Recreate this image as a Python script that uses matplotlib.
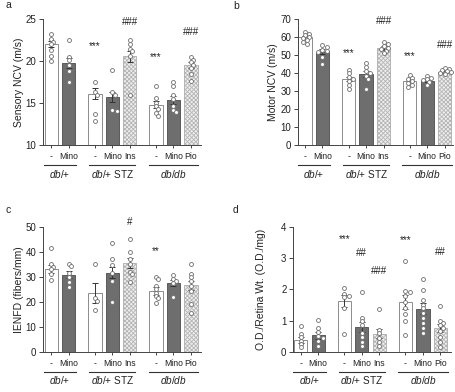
import matplotlib

matplotlib.use("Agg")
import matplotlib.pyplot as plt
import numpy as np

plt.rcParams["font.family"] = ["Liberation Sans", "DejaVu Sans"]
plt.rcParams["mathtext.fontset"] = "custom"
plt.rcParams["mathtext.rm"] = "Liberation Sans"
plt.rcParams["mathtext.it"] = "Liberation Sans:italic"
plt.rcParams["hatch.linewidth"] = 0.6

# ---- data -----------------------------------------------------------------
TREATMENTS = ["-", "Mino", "-", "Mino", "Ins", "-", "Mino", "Pio"]
GROUPS = [r"$\mathit{db/}$+", r"$\mathit{db/}$+ STZ", r"$\mathit{db/db}$"]
GROUP_SIZES = [2, 3, 3]

SENSORY_MEAN = [22.05, 19.8, 16.1, 15.75, 20.6, 14.8, 15.4, 19.55]
SENSORY_SEM = [0.4, 0.6, 0.65, 0.6, 0.65, 0.4, 0.45, 0.4]
SENSORY_DOTS = [
    [23.3, 22.6, 22.3, 22.0, 21.3, 20.6, 20.0],
    [22.5, 20.5, 20.1, 19.6, 18.8, 17.5],
    [17.5, 16.3, 16.0, 13.7, 12.9],
    [19.0, 16.3, 16.0, 14.2, 14.0],
    [22.5, 22.0, 21.5, 21.2, 20.6, 16.0],
    [17.0, 15.6, 15.0, 14.6, 14.3, 13.8, 13.5],
    [17.5, 17.0, 16.0, 15.5, 14.6, 14.2, 13.9],
    [20.5, 20.2, 19.9, 19.6, 19.2, 18.5, 17.6],
]

MOTOR_MEAN = [60.0, 52.0, 36.7, 39.4, 54.0, 35.8, 35.9, 40.8]
MOTOR_SEM = [0.9, 1.3, 1.3, 1.6, 0.9, 0.8, 0.7, 0.5]
MOTOR_DOTS = [
    [63.0, 62.0, 61.0, 60.0, 59.5, 58.5, 57.5, 56.5],
    [55.5, 54.5, 53.0, 52.5, 52.0, 49.0, 45.0],
    [42.0, 40.0, 38.0, 37.0, 35.5, 33.5, 31.0],
    [45.5, 43.5, 41.0, 40.0, 38.5, 37.0, 31.0],
    [57.5, 56.5, 55.0, 54.0, 53.5, 52.5, 51.0],
    [39.0, 37.5, 36.5, 35.5, 34.5, 33.5, 32.5],
    [38.5, 37.5, 36.5, 36.0, 35.0, 33.5],
    [43.0, 42.5, 41.5, 41.0, 40.5, 40.0, 39.5],
]

IENFD_MEAN = [33.1, 30.9, 23.7, 31.7, 35.7, 24.3, 27.7, 26.7]
IENFD_SEM = [1.7, 1.3, 4.0, 2.3, 2.0, 1.5, 1.2, 1.8]
IENFD_DOTS = [
    [41.5, 35.0, 34.0, 33.0, 31.0, 28.7],
    [35.3, 34.3, 31.7, 30.0, 28.0, 26.0],
    [35.3, 21.5, 20.5, 16.7],
    [43.3, 37.0, 34.7, 31.5, 28.3, 19.9],
    [45.0, 40.0, 37.0, 35.0, 32.0, 31.0, 28.0],
    [30.0, 29.0, 26.5, 25.3, 23.7, 22.5, 21.6, 19.7],
    [30.7, 29.3, 28.3, 27.5, 22.0],
    [35.3, 31.3, 30.0, 28.3, 26.3, 24.3, 19.3, 15.6],
]

OD_MEAN = [0.39, 0.53, 1.63, 0.80, 0.58, 1.59, 1.38, 0.77]
OD_SEM = [0.1, 0.1, 0.2, 0.17, 0.14, 0.22, 0.17, 0.13]
OD_DOTS = [
    [0.83, 0.57, 0.47, 0.36, 0.25, 0.15],
    [1.02, 0.76, 0.65, 0.5, 0.45, 0.34, 0.2],
    [2.05, 1.85, 1.8, 1.75, 1.42, 0.58],
    [1.91, 1.08, 0.98, 0.87, 0.6, 0.47, 0.32, 0.2],
    [1.37, 0.71, 0.6, 0.45, 0.31, 0.18],
    [2.9, 1.95, 1.9, 1.8, 1.6, 1.4, 1.22, 1.0, 0.55],
    [2.33, 1.98, 1.67, 1.5, 1.4, 1.26, 1.08, 0.92, 0.78, 0.6],
    [1.48, 0.99, 0.92, 0.85, 0.78, 0.67, 0.48, 0.33, 0.17],
]

# significance marks: (bar index, text) ; heights kept with the layout below
SENSORY_MARKS = [(2, "***"), (4, "###"), (5, "***"), (7, "###")]
MOTOR_MARKS = [(2, "***"), (4, "###"), (5, "***"), (7, "###")]
IENFD_MARKS = [(4, "#"), (5, "**")]
OD_MARKS = [(2, "***"), (3, "##"), (4, "###"), (5, "***"), (7, "##")]

# ---- layout / style ---------------------------------------------------------
FIG_W, FIG_H = 455, 392
PX_PER_UNIT = 17.45
BAR_STYLE = ["open", "dark", "open", "dark", "hatch", "open", "dark", "hatch"]
GROUP_HALF = [0.92, 1.32, 1.42]
TEXT = "#222222"

PANELS = [
    dict(letter="a", rect=[0.0936, 0.6301, 0.349, 0.3207], xlim=(-0.5, 8.6),
         ylim=(10, 25), yticks=[10, 15, 20, 25], ylabel="Sensory NCV (m/s)",
         labelpad=1.0, mean=SENSORY_MEAN, sem=SENSORY_SEM, dots=SENSORY_DOTS,
         marks=SENSORY_MARKS, mark_y=[21.8, 24.7, 20.5, 23.5]),
    dict(letter="b", rect=[0.6543, 0.6301, 0.342, 0.3207], xlim=(-0.42, 8.5),
         ylim=(0, 70), yticks=range(0, 71, 10), ylabel="Motor NCV (m/s)",
         labelpad=1.5, mean=MOTOR_MEAN, sem=MOTOR_SEM, dots=MOTOR_DOTS,
         marks=MOTOR_MARKS, mark_y=[51.4, 69.2, 49.6, 55.6]),
    dict(letter="c", rect=[0.0936, 0.102, 0.349, 0.3197], xlim=(-0.5, 8.6),
         ylim=(0, 50), yticks=range(0, 51, 10), ylabel="IENFD (fibers/mm)",
         labelpad=1.0, mean=IENFD_MEAN, sem=IENFD_SEM, dots=IENFD_DOTS,
         marks=IENFD_MARKS, mark_y=[52.0, 40.4]),
    dict(letter="d", rect=[0.6433, 0.102, 0.3475, 0.3197], xlim=(-0.46, 8.6),
         ylim=(0, 4), yticks=range(0, 5), ylabel="O.D./Retina Wt. (O.D./mg)",
         labelpad=11, mean=OD_MEAN, sem=OD_SEM, dots=OD_DOTS,
         marks=OD_MARKS, mark_y=[3.61, 3.15, 2.59, 3.58, 3.2]),
]
LETTER_POS = {"a": (0.011, 0.987), "b": (0.512, 0.985),
              "c": (0.011, 0.464), "d": (0.512, 0.464)}


def bar_positions(sizes, gap=0.5):
    pos, start = [], 0.0
    for n in sizes:
        pos.extend(start + np.arange(n))
        start += n + gap
    return np.array(pos)


def swarm(values, center, ylim, height_px, d_px=3.6):
    scale = height_px / (ylim[1] - ylim[0])
    placed, xs = [], []
    for v in values:
        y = v * scale
        for k in [0, 1, -1, 2, -2, 3, -3]:
            x = k * d_px * 0.6
            if all((x - px) ** 2 + (y - py) ** 2 >= (0.8 * d_px) ** 2
                   for px, py in placed):
                break
        placed.append((x, y))
        xs.append(center + x / PX_PER_UNIT)
    return xs


def draw_panel(fig, p):
    ax = fig.add_axes(p["rect"])
    x = bar_positions(GROUP_SIZES)
    for xi, m, style in zip(x, p["mean"], BAR_STYLE):
        if style == "open":
            kw = dict(color="white", edgecolor="#8c8c8c")
        elif style == "dark":
            kw = dict(color="#6e6e6e", edgecolor="#5a5a5a")
        else:
            kw = dict(color="#efefef", edgecolor="#b4b4b4", hatch="xxxxxxxx")
        ax.bar(xi, m, 0.76, linewidth=0.7, zorder=2, **kw)
    ax.errorbar(x, p["mean"], yerr=p["sem"], fmt="none", ecolor="#333333",
                elinewidth=0.7, capsize=2, capthick=0.7, zorder=3)
    height_px = p["rect"][3] * FIG_H
    for xi, vals in zip(x, p["dots"]):
        xs = swarm(vals, xi, p["ylim"], height_px)
        ax.scatter(xs, vals, s=8, facecolor="white", edgecolor="#6e6e6e",
                   linewidth=0.6, zorder=5, clip_on=False)
    for (idx, txt), y in zip(p["marks"], p["mark_y"]):
        ax.text(x[idx], y, txt, ha="center", va="center", fontsize=7,
                color=TEXT, clip_on=False)

    ax.set_xlim(*p["xlim"])
    ax.set_ylim(*p["ylim"])
    ax.set_yticks(list(p["yticks"]))
    ax.set_xticks(x)
    ax.set_xticklabels(TREATMENTS, fontsize=6.2, color=TEXT)
    ax.tick_params(axis="y", labelsize=7, length=3, width=0.7, pad=1.5,
                   colors="#444444", labelcolor=TEXT)
    ax.tick_params(axis="x", length=2.5, width=0.7, pad=2.5, colors="#444444",
                   labelcolor=TEXT)
    ax.set_ylabel(p["ylabel"], fontsize=7.5, color=TEXT, labelpad=p["labelpad"])
    for side in ("top", "right"):
        ax.spines[side].set_visible(False)
    for side in ("left", "bottom"):
        ax.spines[side].set_linewidth(0.7)
        ax.spines[side].set_color("#444444")

    trans = ax.get_xaxis_transform()
    start = 0
    for name, n, hw in zip(GROUPS, GROUP_SIZES, GROUP_HALF):
        c = x[start:start + n].mean()
        ax.plot([c - hw, c + hw], [-0.163, -0.163], color="#333333",
                linewidth=0.8, transform=trans, clip_on=False)
        ax.text(c, -0.227, name, transform=trans, ha="center", va="center",
                fontsize=7.2, color=TEXT)
        start += n

    lx, ly = LETTER_POS[p["letter"]]
    fig.text(lx, ly, p["letter"], fontsize=7.5, va="center", ha="left",
             color=TEXT)
    return ax


fig = plt.figure(figsize=(FIG_W / 100, FIG_H / 100), dpi=100)
for panel in PANELS:
    draw_panel(fig, panel)
fig.savefig("out.png", dpi=100, facecolor="white")
